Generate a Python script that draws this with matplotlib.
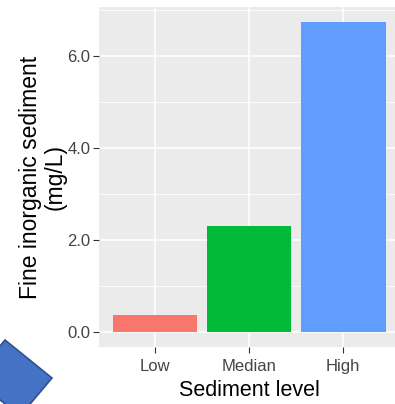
import matplotlib
matplotlib.use("Agg")
import matplotlib.pyplot as plt
from matplotlib.patches import Polygon
from matplotlib.ticker import MultipleLocator, FormatStrFormatter

plt.rcParams['font.family'] = ['Liberation Sans', 'DejaVu Sans']

# Data
levels = ["Low", "Median", "High"]
sediment = [0.37, 2.30, 6.72]
bar_colors = ["#F8766D", "#00BA38", "#619CFF"]
y_ticks = [0.0, 2.0, 4.0, 6.0]

W, H = 395, 404
fig = plt.figure(figsize=(W / 100, H / 100), dpi=100)

# Panel spans slightly past the right edge of the figure
left, right, top, bottom = 98.5, 399.7, 7, 347
ax = fig.add_axes([left / W, 1 - bottom / H, (right - left) / W, (bottom - top) / H])
ax.set_facecolor("#EBEBEB")

x = list(range(1, len(levels) + 1))
ax.bar(x, sediment, width=0.9, color=bar_colors, zorder=3)

ymax = max(sediment)
pad = 0.05 * ymax
ax.set_ylim(-pad, ymax + pad)
ax.set_xlim(0.4, len(levels) + 0.6)

ax.set_yticks(y_ticks)
ax.yaxis.set_major_formatter(FormatStrFormatter('%.1f'))
ax.yaxis.set_minor_locator(MultipleLocator(1.0))
ax.set_xticks(x)
ax.set_xticklabels(levels)

ax.grid(which='major', color='white', linewidth=1.1, zorder=1)
ax.grid(which='minor', axis='y', color='white', linewidth=0.55, zorder=1)
ax.tick_params(which='minor', length=0)
ax.tick_params(which='major', length=4, width=0.8, color='#333333',
               labelcolor='#444444', labelsize=12)
ax.tick_params(axis='y', pad=2)
ax.tick_params(axis='x', pad=4.5)
for s in ax.spines.values():
    s.set_visible(False)

ax.set_xlabel("Sediment level", fontsize=15.5, color='black', labelpad=4.5)
ax.set_ylabel("Fine inorganic sediment\n(mg/L)", fontsize=16.5, color='black',
              labelpad=0.5, linespacing=1.1)

# Decorative blue arrow shape in the lower-left corner
shape = Polygon([(5 / W, 1 - 340 / H), (52 / W, 1 - 378 / H),
                 (20 / W, 1 - 416 / H), (-27 / W, 1 - 378 / H)],
                closed=True, transform=fig.transFigure,
                facecolor="#4472C4", edgecolor="#2F528F", linewidth=1.2,
                clip_on=False)
fig.patches.append(shape)

fig.savefig("out.png", dpi=100)
